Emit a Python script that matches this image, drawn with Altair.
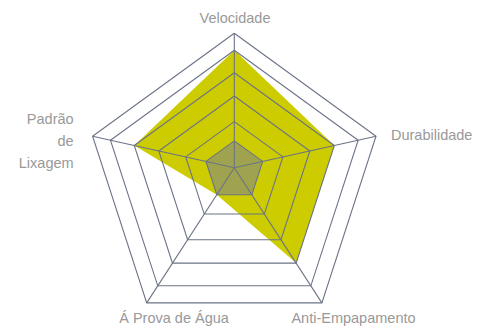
import altair as alt
import numpy as np
import pandas as pd

# ---- data ----
categories = ["Velocidade", "Durabilidade", "Anti-Empapamento", "Á Prova de Água", "Padrão de Lixagem"]
label_lines = [["Velocidade"], ["Durabilidade"], ["Anti-Empapamento"], ["Á Prova de Água"], ["Padrão", "de", "Lixagem"]]
series_main = [5, 4, 4, 1, 4]
series_base = [1, 1, 1, 1, 1]
ring_levels = [1, 2, 3, 4, 5, 6]
ring_radius = [0.2, 0.343, 0.533, 0.706, 0.874, 1.0]

# ---- geometry (layout) ----
OX, OY = 234.3, 167.7          # hub of the spokes
CX, CY, R = 234.3, 182.3, 149.0  # outer pentagon
ang = np.deg2rad(90 - 72 * np.arange(5))
VX = CX + R * np.cos(ang)
VY = CY - R * np.sin(ang)


def point(i, level):
    f = np.interp(level, [0] + ring_levels, [0] + ring_radius)
    return OX + f * (VX[i] - OX), OY + f * (VY[i] - OY)


def polygon(values, name):
    rows = []
    for k in range(6):
        i = k % 5
        x, y = point(i, values[i])
        rows.append({"series": name, "order": k, "x": x, "y": y})
    return rows


poly_main = pd.DataFrame(polygon(series_main, "main"))
poly_base = pd.DataFrame(polygon(series_base, "base"))

ring_rows = []
for lv in ring_levels:
    for k in range(6):
        x, y = point(k % 5, lv)
        ring_rows.append({"ring": lv, "order": k, "x": x, "y": y})
rings = pd.DataFrame(ring_rows)

spokes = pd.DataFrame({"x": [OX] * 5, "y": [OY] * 5, "x2": VX, "y2": VY})

W, H = 465, 318
XS = alt.Scale(domain=[8, 8 + W], nice=False, zero=False)
YS = alt.Scale(domain=[8, 8 + H], nice=False, zero=False, reverse=True)


def X(f="x:Q"):
    return alt.X(f, scale=XS, axis=None)


def Y(f="y:Q"):
    return alt.Y(f, scale=YS, axis=None)


main_layer = alt.Chart(poly_main).mark_line(
    fill="#cccc00", strokeWidth=0, strokeOpacity=0
).encode(x=X(), y=Y(), order="order:Q")

base_layer = alt.Chart(poly_base).mark_line(
    fill="#7a8290", fillOpacity=0.55, strokeWidth=0, strokeOpacity=0
).encode(x=X(), y=Y(), order="order:Q")

ring_layer = alt.Chart(rings).mark_line(
    color="#6b7385", strokeWidth=1.1
).encode(x=X(), y=Y(), order="order:Q", detail="ring:N")

spoke_layer = alt.Chart(spokes).mark_rule(
    color="#6b7385", strokeWidth=1.1
).encode(x=X(), y=Y(), x2="x2:Q", y2="y2:Q")

# label placement
offs = [(0.7, -10.3, "center"), (15.0, 4.2, "left"), (31.6, 19.8, "center"),
        (27.3, 19.8, "center"), (-19.0, -12.3, "right")]
lab_rows = []
for i, (dx, dy, al) in enumerate(offs):
    for j, t in enumerate(label_lines[i]):
        lab_rows.append({"x": VX[i] + dx, "y": VY[i] + dy + 22 * j, "text": t, "align": al})
labels = pd.DataFrame(lab_rows)

text_layers = []
for al in ["center", "left", "right"]:
    text_layers.append(
        alt.Chart(labels[labels["align"] == al]).mark_text(
            align=al, baseline="alphabetic", font="Liberation Sans", fontSize=14.5, color="#999999"
        ).encode(x=X(), y=Y(), text="text:N")
    )

chart = alt.layer(main_layer, base_layer, ring_layer, spoke_layer, *text_layers).properties(
    width=W, height=H, padding=0, autosize=alt.AutoSizeParams(type="none")
).configure_view(stroke=None)

chart.save("out.html", embed_options={"renderer": "svg", "actions": False})
